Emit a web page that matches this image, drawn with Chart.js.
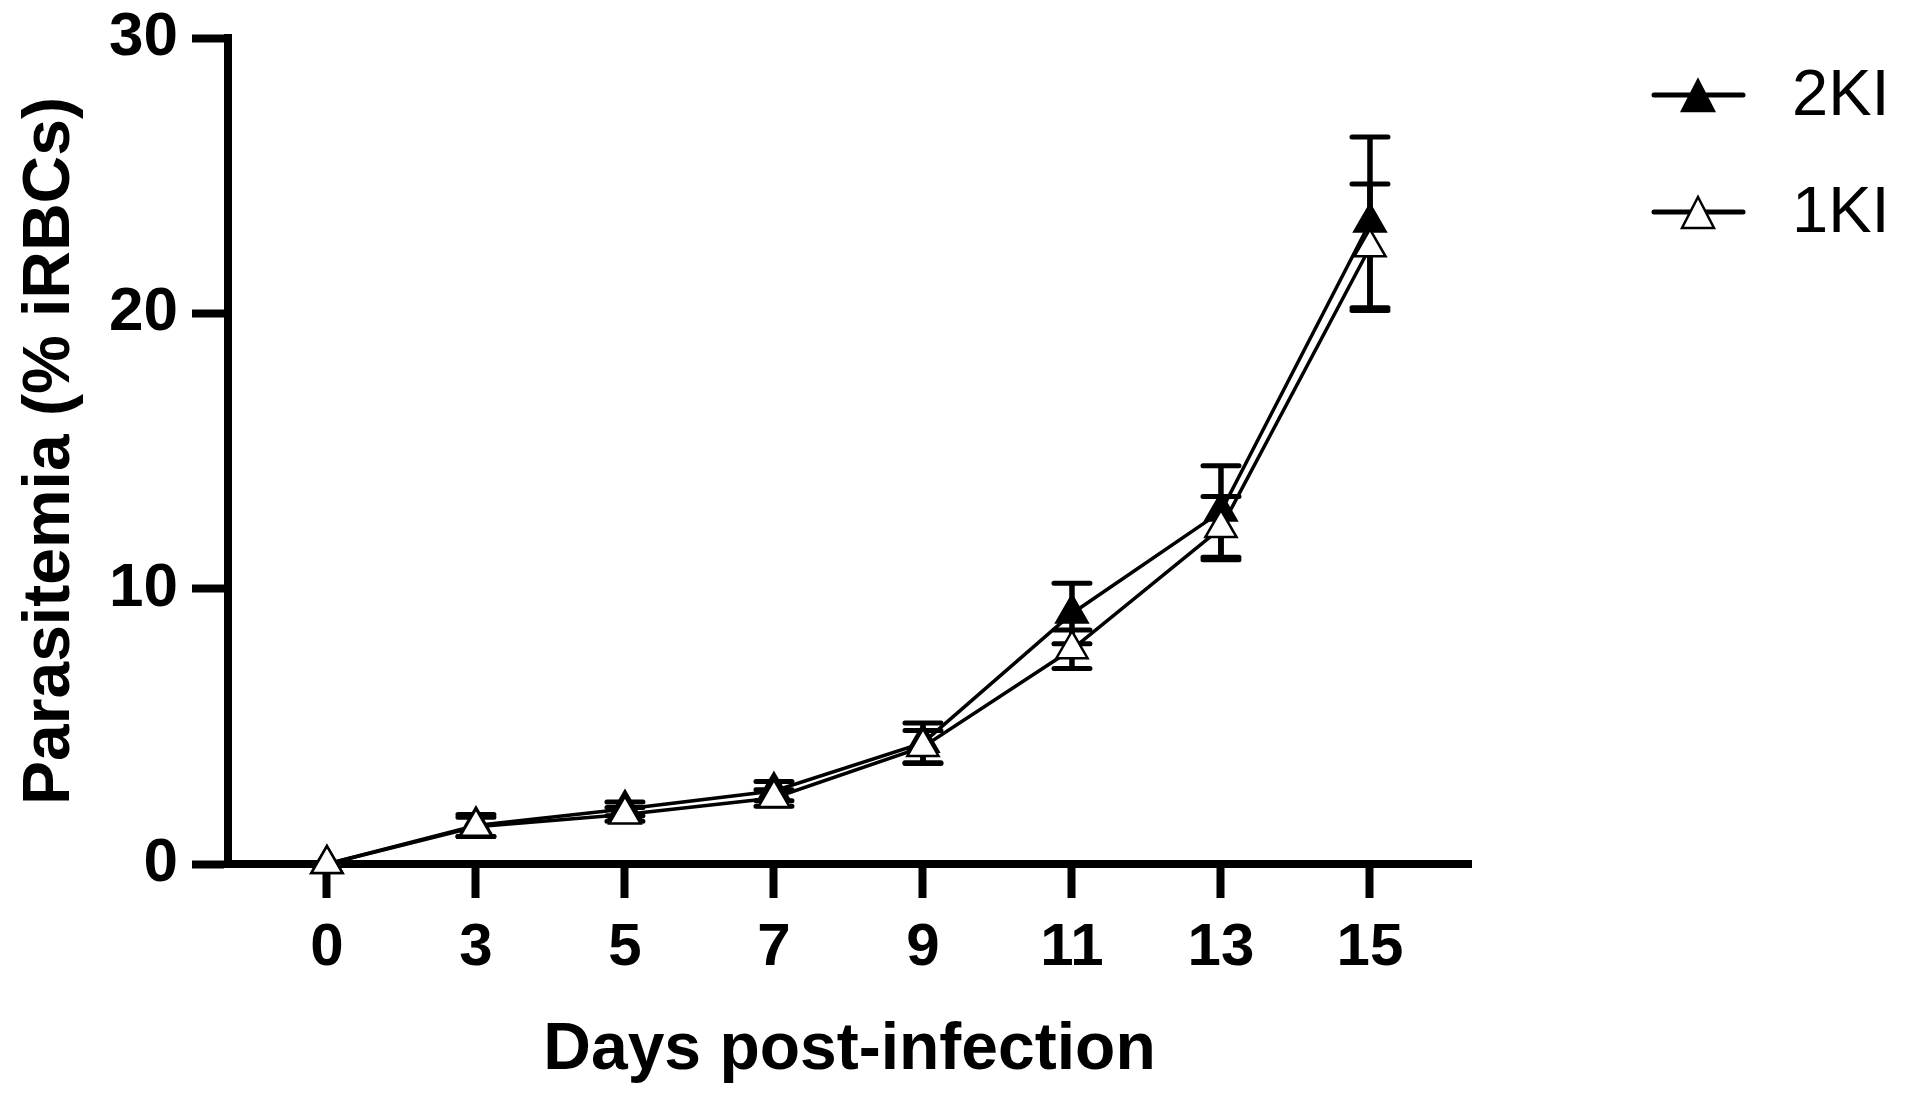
<!DOCTYPE html>
<html>
<head>
<meta charset="utf-8">
<script src="https://cdn.jsdelivr.net/npm/chart.js@4/dist/chart.umd.min.js"></script>
<style>
    html, body { margin: 0; padding: 0; background: #fff; }
    #wrap { width: 1908px; height: 1102px; }
</style>
</head>
<body>
<div id="wrap"><canvas id="parasitemiachart" width="1908" height="1102"></canvas></div>
<script>
// days post-infection (drawn as evenly spaced categories)
const days = ["0", "3", "5", "7", "9", "11", "13", "15"];

// mean parasitemia (% iRBCs) and SEM per group
const mean_2ki = [0, 1.4, 2.0, 2.65, 4.4, 9.1, 12.8, 23.3];
const err_2ki = [0, 0.4, 0.25, 0.35, 0.72, 1.1, 1.66, 3.1];
const mean_1ki = [0, 1.35, 1.8, 2.4, 4.25, 7.8, 12.2, 22.4];
const err_1ki = [0, 0.35, 0.25, 0.3, 0.6, 0.7, 1.15, 2.3];

const y_ticks = [0, 10, 20, 30];
const series_names = ["2KI", "1KI"];

const font_family = "'Liberation Sans', Arial, sans-serif";

// draw the error bars of a dataset just before the dataset itself
const errorBarsPlugin = {
    id: "errorbars",
    beforeDatasetDraw(chart, args) {
        const ds = chart.data.datasets[args.index];
        if (!ds.errors) return;
        const ctx = chart.ctx;
        const yScale = chart.scales.y;
        ctx.save();
        ctx.strokeStyle = "#000";
        args.meta.data.forEach((pt, i) => {
            const e = ds.errors[i];
            if (!e) return;
            const m = ds.data[i].y;
            const top = yScale.getPixelForValue(m + e);
            const bot = yScale.getPixelForValue(m - e);
            ctx.lineWidth = 5.5;
            ctx.beginPath();
            ctx.moveTo(pt.x, top);
            ctx.lineTo(pt.x, bot);
            ctx.stroke();
            ctx.lineWidth = 5;
            ctx.lineCap = "round";
            ctx.beginPath();
            ctx.moveTo(pt.x - 18, top);
            ctx.lineTo(pt.x + 18, top);
            ctx.moveTo(pt.x - 18, bot);
            ctx.lineTo(pt.x + 18, bot);
            ctx.stroke();
            ctx.lineCap = "butt";
        });
        ctx.restore();
    },
};

// legend in the top right corner: line with marker, then the name
const sideLegendPlugin = {
    id: "sidelegend",
    afterDraw(chart) {
        const ctx = chart.ctx;
        const rows = [95, 212];
        ctx.save();
        chart.data.datasets.forEach((ds, i) => {
            const y = rows[i];
            ctx.strokeStyle = "#000";
            ctx.lineWidth = 5;
            ctx.lineCap = "round";
            ctx.beginPath();
            ctx.moveTo(1654, y);
            ctx.lineTo(1743, y);
            ctx.stroke();
            ctx.lineCap = "butt";
            ctx.beginPath();
            ctx.moveTo(1698, y - 15);
            ctx.lineTo(1714, y + 16);
            ctx.lineTo(1682, y + 16);
            ctx.closePath();
            ctx.fillStyle = ds.pointBackgroundColor;
            ctx.fill();
            ctx.lineWidth = 2.5;
            ctx.stroke();
            ctx.fillStyle = "#000";
            ctx.font = "65px " + font_family;
            ctx.textBaseline = "middle";
            ctx.textAlign = "left";
            ctx.fillText(ds.label, 1792, y + 2);
        });
        ctx.restore();
    },
};

function toPoints(values) {
    return values.map((v, i) => ({ x: i, y: v }));
}

const config = {
    type: "line",
    data: {
        datasets: [
            {
                label: series_names[0],
                data: toPoints(mean_2ki),
                errors: err_2ki,
                borderColor: "#000",
                borderWidth: 3.5,
                pointStyle: "triangle",
                pointRadius: 18,
                pointBorderWidth: 2.5,
                pointBackgroundColor: "#000",
                pointBorderColor: "#000",
                clip: false,
                order: 2,
            },
            {
                label: series_names[1],
                data: toPoints(mean_1ki),
                errors: err_1ki,
                borderColor: "#000",
                borderWidth: 3.5,
                pointStyle: "triangle",
                pointRadius: 18,
                pointBorderWidth: 2.5,
                pointBackgroundColor: "#fff",
                pointBorderColor: "#000",
                clip: false,
                order: 1,
            },
        ],
    },
    options: {
        responsive: false,
        devicePixelRatio: 1,
        animation: false,
        layout: { padding: { top: 38, right: 437, left: 0, bottom: 0 } },
        plugins: {
            legend: { display: false },
            tooltip: { enabled: false },
        },
        scales: {
            x: {
                type: "linear",
                min: -0.664,
                max: 7.678,
                afterFit: (scale) => {
                    scale.height = 238;
                    scale.paddingLeft = 0;
                    scale.paddingRight = 0;
                },
                afterBuildTicks: (scale) => { scale.ticks = days.map((d, i) => ({ value: i })); },
                border: { display: true, color: "#000", width: 8 },
                grid: { drawOnChartArea: false, drawTicks: true, tickLength: 34, tickWidth: 8, tickColor: "#000" },
                ticks: {
                    callback: (v) => days[v],
                    color: "#000",
                    padding: 14,
                    maxRotation: 0,
                    font: { family: font_family, size: 60, weight: "bold" },
                },
                title: {
                    display: true,
                    text: "Days post-infection",
                    color: "#000",
                    padding: { top: 0, bottom: 12 },
                    font: { family: font_family, size: 66, weight: "bold" },
                },
            },
            y: {
                min: 0,
                max: 30,
                afterFit: (scale) => {
                    scale.width = 228;
                    // keep the chart area where the layout padding puts it
                    scale.paddingTop = 0;
                    scale.paddingBottom = 0;
                },
                afterBuildTicks: (scale) => { scale.ticks = y_ticks.map((v) => ({ value: v })); },
                border: { display: true, color: "#000", width: 8 },
                grid: { drawOnChartArea: false, drawTicks: true, tickLength: 36, tickWidth: 8, tickColor: "#000" },
                ticks: {
                    color: "#000",
                    padding: 14,
                    font: { family: font_family, size: 62, weight: "bold" },
                },
                title: {
                    display: true,
                    text: "Parasitemia (% iRBCs)",
                    color: "#000",
                    padding: { top: 11, bottom: 0 },
                    font: { family: font_family, size: 66, weight: "bold" },
                },
            },
        },
    },
    plugins: [errorBarsPlugin, sideLegendPlugin],
};

new Chart(document.getElementById("parasitemiachart"), config);
</script>
</body>
</html>
